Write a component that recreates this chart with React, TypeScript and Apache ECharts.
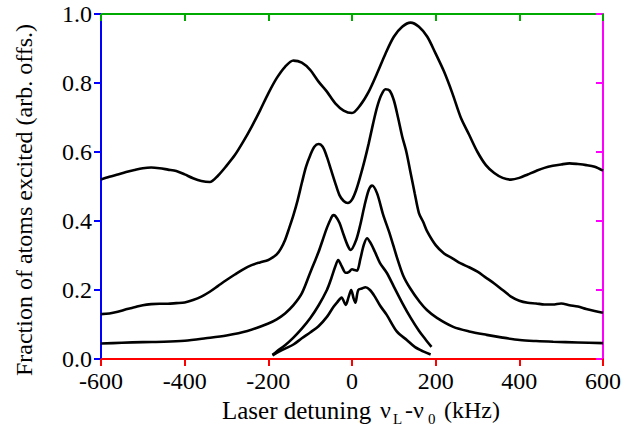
import React, { useEffect, useRef } from "react";
import * as echarts from "echarts";

// Curve 1 (top, largest offset)
const c1x = [-600, -580, -560, -540, -520, -500, -480, -460, -440, -420, -400, -380, -360, -340, -320, -300, -280, -260, -240, -220, -200, -180, -160, -140, -120, -100, -80, -60, -40, -20, 0, 20, 40, 60, 80, 100, 120, 140, 160, 180, 200, 220, 240, 260, 280, 300, 320, 340, 360, 380, 400, 420, 440, 460, 480, 500, 520, 540, 560, 580, 600];
const c1y = [0.52, 0.528, 0.535, 0.542, 0.548, 0.553, 0.555, 0.553, 0.549, 0.545, 0.535, 0.524, 0.516, 0.513, 0.532, 0.56, 0.591, 0.63, 0.673, 0.72, 0.77, 0.814, 0.847, 0.865, 0.859, 0.838, 0.804, 0.775, 0.741, 0.72, 0.713, 0.736, 0.775, 0.828, 0.885, 0.934, 0.963, 0.975, 0.963, 0.934, 0.885, 0.833, 0.77, 0.7, 0.65, 0.6, 0.562, 0.539, 0.525, 0.52, 0.525, 0.535, 0.545, 0.554, 0.56, 0.564, 0.567, 0.565, 0.562, 0.557, 0.546];

// Curve 2
const c2x = [-600, -580, -560, -540, -520, -500, -480, -460, -440, -420, -400, -380, -360, -340, -320, -300, -280, -260, -240, -220, -200, -190, -180, -170, -160, -150, -140, -130, -120, -110, -100, -90, -80, -70, -60, -50, -40, -30, -20, -10, 0, 10, 20, 30, 40, 50, 60, 70, 80, 90, 100, 110, 120, 130, 140, 150, 160, 170, 180, 200, 220, 240, 260, 280, 300, 320, 340, 360, 380, 400, 420, 440, 460, 480, 500, 520, 540, 560, 580, 600];
const c2y = [0.13, 0.132, 0.137, 0.144, 0.15, 0.156, 0.159, 0.16, 0.16, 0.162, 0.164, 0.171, 0.181, 0.195, 0.212, 0.229, 0.245, 0.26, 0.272, 0.28, 0.287, 0.294, 0.303, 0.32, 0.345, 0.38, 0.417, 0.46, 0.51, 0.557, 0.59, 0.615, 0.623, 0.615, 0.586, 0.548, 0.51, 0.475, 0.458, 0.452, 0.462, 0.49, 0.53, 0.575, 0.625, 0.68, 0.73, 0.765, 0.782, 0.778, 0.75, 0.7, 0.645, 0.6, 0.54, 0.48, 0.423, 0.398, 0.369, 0.33, 0.306, 0.292, 0.277, 0.266, 0.253, 0.236, 0.219, 0.2, 0.181, 0.169, 0.163, 0.161, 0.158, 0.158, 0.161, 0.156, 0.152, 0.145, 0.139, 0.134];

// Curve 3
const c3x = [-600, -550, -500, -450, -400, -350, -300, -250, -200, -180, -160, -140, -120, -100, -90, -80, -70, -60, -50, -45, -40, -30, -20, -10, -3, 10, 20, 30, 40, 48, 60, 74, 91, 107, 122, 139, 162, 179, 203, 242, 280, 322, 360, 401, 440, 481, 540, 600];
const c3y = [0.045, 0.047, 0.049, 0.05, 0.053, 0.06, 0.068, 0.081, 0.103, 0.115, 0.132, 0.156, 0.19, 0.25, 0.28, 0.31, 0.345, 0.38, 0.408, 0.417, 0.415, 0.395, 0.36, 0.328, 0.316, 0.345, 0.39, 0.445, 0.49, 0.503, 0.48, 0.42, 0.36, 0.296, 0.243, 0.205, 0.165, 0.142, 0.119, 0.093, 0.08, 0.07, 0.062, 0.055, 0.052, 0.05, 0.048, 0.046];

// Curve 4
const c4x = [-190, -180, -160, -140, -120, -100, -80, -60, -50, -40, -33, -25, -15, -8, 0, 6, 12, 20, 28, 36, 45, 55, 67, 83, 100, 120, 140, 160, 175, 190];
const c4y = [0.012, 0.022, 0.04, 0.062, 0.088, 0.118, 0.155, 0.2, 0.232, 0.268, 0.287, 0.27, 0.25, 0.252, 0.26, 0.258, 0.256, 0.29, 0.33, 0.35, 0.335, 0.31, 0.278, 0.25, 0.21, 0.163, 0.12, 0.082, 0.058, 0.035];

// Curve 5 (bottom)
const c5x = [-190, -180, -160, -140, -120, -100, -80, -60, -45, -35, -25, -15, -8, -2, 4, 8, 15, 25, 32, 43, 55, 67, 83, 107, 131, 150, 170, 188];
const c5y = [0.01, 0.018, 0.03, 0.042, 0.06, 0.077, 0.095, 0.122, 0.15, 0.165, 0.178, 0.157, 0.18, 0.2, 0.175, 0.163, 0.2, 0.205, 0.208, 0.2, 0.18, 0.155, 0.128, 0.08, 0.055, 0.035, 0.022, 0.013];

const curves = [
  [c1x, c1y],
  [c2x, c2y],
  [c3x, c3y],
  [c4x, c4y],
  [c5x, c5y],
];

const xTicks = [-600, -400, -200, 0, 200, 400, 600];
const yTicks = [0, 0.2, 0.4, 0.6, 0.8, 1.0];

const yTitle = "Fraction of atoms excited (arb. offs.)";
const xTitleParts: [string, boolean][] = [
  ["Laser detuning", false],
  ["ν", false],
  ["L", true],
  ["-", false],
  ["ν", false],
  ["0", true],
  ["(kHz)", false],
];

const FONT = "'Liberation Serif', 'Times New Roman', serif";

export default function App() {
  const ref = useRef<HTMLDivElement>(null);
  useEffect(() => {
    document.body.style.margin = "0";
    const chart = echarts.init(ref.current!, null, { renderer: "svg" });
    chart.setOption({
      animation: false,
      backgroundColor: "#fff",
      grid: { left: 101, right: 38, top: 14, bottom: 71 },
      xAxis: [
        {
          type: "value",
          min: -600,
          max: 600,
          interval: 200,
          position: "bottom",
          axisLine: { show: true, onZero: false, lineStyle: { color: "#f00", width: 2 } },
          axisTick: { show: true, length: 7, lineStyle: { color: "#f00", width: 2 } },
          axisLabel: { color: "#000", fontFamily: FONT, fontSize: 24, margin: 10 },
          splitLine: { show: false },
        },
        {
          type: "value",
          min: -600,
          max: 600,
          interval: 200,
          position: "top",
          axisLine: { show: true, onZero: false, lineStyle: { color: "#0a0", width: 2 } },
          axisTick: { show: true, inside: true, length: 7, lineStyle: { color: "#0a0", width: 2 } },
          axisLabel: { show: false },
          splitLine: { show: false },
        },
      ],
      yAxis: [
        {
          type: "value",
          min: 0,
          max: 1,
          interval: 0.2,
          position: "left",
          axisLine: { show: true, onZero: false, lineStyle: { color: "#00f", width: 2 } },
          axisTick: { show: true, length: 7, lineStyle: { color: "#00f", width: 2 } },
          axisLabel: {
            color: "#000",
            fontFamily: FONT,
            fontSize: 24,
            margin: 9,
            formatter: (v: number) => v.toFixed(1),
          },
          splitLine: { show: false },
        },
        {
          type: "value",
          min: 0,
          max: 1,
          interval: 0.2,
          position: "right",
          axisLine: { show: true, onZero: false, lineStyle: { color: "#f0f", width: 2 } },
          axisTick: { show: true, inside: true, length: 7, lineStyle: { color: "#f0f", width: 2 } },
          axisLabel: { show: false },
          splitLine: { show: false },
        },
      ],
      series: curves.map(([xs, ys]) => ({
        type: "line",
        data: xs.map((x, i) => [x, ys[i]]),
        symbol: "none",
        smooth: 0.3,
        lineStyle: { color: "#000", width: 2.6 },
      })),
    });

    const g: any[] = [];
    const partX = [222, 380, 393, 405, 413, 428, 444];
    xTitleParts.forEach(([t, sub], i) => {
      g.push({
        type: "text",
        x: partX[i],
        y: sub ? 419 : 410,
        style: {
          text: t,
          fill: "#000",
          fontFamily: FONT,
          fontSize: sub ? 15 : i === 0 ? 25 : 24,
          align: "left",
          verticalAlign: "middle",
        },
      });
    });
    g.push({
      type: "text",
      x: 24,
      y: 200,
      rotation: Math.PI / 2,
      style: {
        text: yTitle,
        fill: "#000",
        fontFamily: FONT,
        fontSize: 24,
        align: "center",
        verticalAlign: "middle",
      },
    });
    chart.setOption({ graphic: g });
    return () => chart.dispose();
  }, []);
  return <div ref={ref} style={{ position: "absolute", left: 0, top: 0, width: 641, height: 430 }} />;
}
